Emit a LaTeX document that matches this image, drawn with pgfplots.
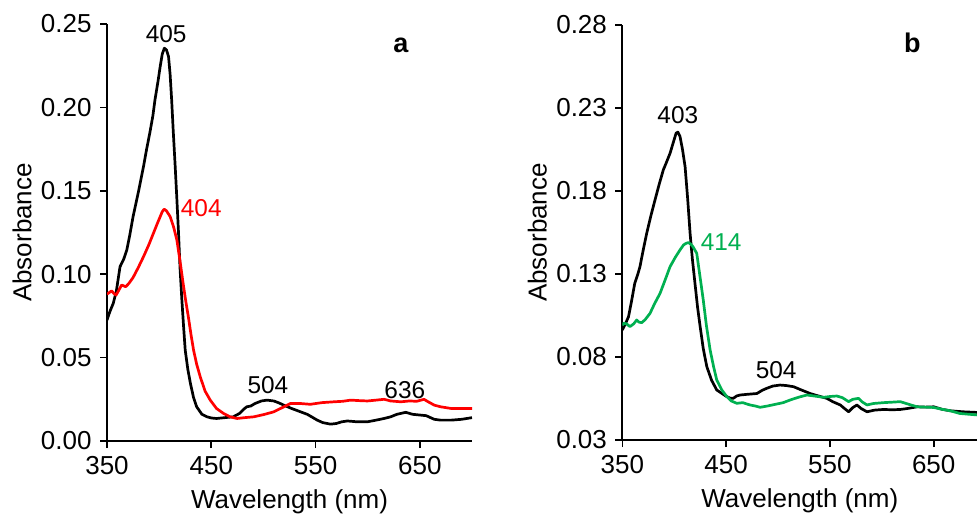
\documentclass[border=0pt,12pt]{standalone}
\usepackage{fontspec}
\setmainfont{Liberation Sans}
\usepackage{pgfplots}
\pgfplotsset{compat=1.18}
\definecolor{exgreen}{RGB}{0,176,80}
\definecolor{exred}{RGB}{255,0,0}

\newcommand{\lbl}{\fontsize{13}{15.6}\selectfont}
\newcommand{\ann}{\fontsize{12.2}{14.6}\selectfont}

\pgfplotsset{
  spec/.style={
    scale only axis,
    axis lines=left,
    axis line style={-, line width=1pt},
    tick align=outside,
    major tick length=3.5pt,
    tick style={line width=0.8pt, black},
    xmin=350, xmax=700,
    xtick={350,450,550,650},
    every tick label/.append style={font=\lbl},
    /pgf/number format/assume math mode=true,
    yticklabel style={/pgf/number format/.cd, fixed, fixed zerofill, precision=2},
    xticklabel style={/pgf/number format/.cd, fixed, precision=0, 1000 sep={}},
    every axis x label/.style={at={(rel axis cs:0.5,0)}, anchor=north, yshift=-24pt, inner sep=0pt, font=\lbl},
    every axis y label/.style={at={(rel axis cs:0,0.5)}, xshift=-42.5pt, rotate=90, anchor=center, font=\lbl},
    xlabel={Wavelength (nm)},
    ylabel={Absorbance},
    clip=true,
  },
  curve/.style={line width=1.35pt, line join=round},
}

\begin{document}
\begin{tikzpicture}[x=1pt,y=1pt]
\useasboundingbox (0,0) rectangle (488.5,256.5);
\clip (0,0) rectangle (488.5,256.5);

% ---- panel a ----
\begin{axis}[spec,
  at={(53.5pt,36pt)}, anchor=south west,
  width=182.5pt, height=208.5pt,
  ymin=0, ymax=0.25,
  ytick={0,0.05,0.10,0.15,0.20,0.25},
]
\addplot[curve, black] coordinates {
(350,0.0725) (353,0.078) (356,0.0825) (359,0.090) (362.5,0.1045) (366,0.109) (369,0.1145)
(372,0.124) (375,0.1345) (380,0.149) (385,0.1645) (388,0.175) (391,0.1845) (394,0.195)
(396,0.2045) (399,0.216) (401,0.2245) (403,0.232) (405,0.2355) (407,0.2345) (409,0.2305)
(410.5,0.220) (412,0.2045) (413.5,0.186) (415.4,0.1645) (417,0.145) (418.6,0.1245)
(420,0.104) (421.8,0.0845) (423.5,0.068) (425,0.0545) (427.5,0.043) (430,0.0345)
(433,0.026) (436,0.0205) (441,0.016) (446,0.0145) (450,0.0138) (455,0.0135) (463,0.014)
(471,0.0145) (477,0.0165) (481,0.019) (484,0.0205) (488,0.021) (492,0.0225) (498,0.024)
(503.5,0.0245) (510,0.024) (515,0.0228) (519.5,0.0215) (527,0.0195) (535.6,0.0175)
(542,0.016) (547,0.0142) (551.6,0.0125) (557,0.011) (564.4,0.0101) (570,0.0105)
(575,0.0115) (580.5,0.012) (590,0.0115) (599.7,0.0115) (608,0.0125) (615.7,0.0135)
(622,0.0145) (628,0.016) (636.5,0.0172) (643,0.016) (651,0.0155) (656,0.0152)
(663.8,0.013) (670,0.0125) (680,0.0125) (690,0.013) (700,0.014)
};
\addplot[curve, exred] coordinates {
(350,0.088) (351,0.0885) (354.5,0.090) (356.5,0.0885) (358.7,0.0875) (361,0.090)
(364,0.0935) (366,0.093) (368,0.0925) (371,0.0945) (375,0.098) (380,0.104) (385,0.1105)
(390,0.1175) (394.5,0.1245) (398,0.130) (401,0.1345) (403,0.1375) (404.8,0.139)
(407,0.138) (410.6,0.1345) (414,0.128) (417,0.1205) (420,0.108) (423,0.0945)
(425.5,0.084) (428,0.0745) (430.5,0.064) (433,0.0545) (436,0.046) (439.4,0.0385)
(444,0.030) (449,0.0245) (455,0.0195) (461.8,0.0165) (468,0.0145) (474.7,0.0135)
(482,0.014) (490.7,0.0145) (500,0.0158) (510,0.0175) (518,0.020) (526,0.0225)
(535,0.0225) (545,0.022) (556,0.023) (567.6,0.0235) (576,0.0238) (583.7,0.0245)
(592,0.0242) (599.7,0.024) (608,0.0245) (615.7,0.025) (622,0.024) (631.7,0.0235)
(640,0.024) (647,0.0238) (654,0.025) (658,0.0235) (663.8,0.0215) (670,0.0205)
(680,0.0195) (690,0.0195) (700,0.0195)
};
\node[font=\ann, anchor=center] at (axis cs:406.7,0.244) {405};
\node[font=\ann, anchor=center, text=exred] at (axis cs:440.4,0.1397) {404};
\node[font=\ann, anchor=center] at (axis cs:504.3,0.0336) {504};
\node[font=\ann, anchor=center] at (axis cs:635.6,0.0306) {636};
\node[font=\fontsize{13.5}{16}\selectfont\bfseries, anchor=center] at (axis cs:631.7,0.2374) {a};
\end{axis}

% ---- panel b ----
\begin{axis}[spec,
  at={(311.15pt,36.5pt)}, anchor=south west,
  width=177.5pt, height=207.5pt,
  xmax=692,
  ymin=0.03, ymax=0.28,
  ytick={0.03,0.08,0.13,0.18,0.23,0.28},
]
\addplot[curve, black] coordinates {
(350,0.0963) (353,0.100) (356,0.1043) (359,0.114) (362,0.1244) (365,0.130) (367,0.1344)
(370,0.144) (373.5,0.1545) (377.5,0.165) (381.5,0.1746) (385.5,0.184) (389.5,0.1927)
(393,0.198) (396,0.2027) (399,0.209) (401.8,0.2148) (403.5,0.2155) (405.6,0.2128)
(408,0.205) (410.5,0.1946) (413,0.175) (415.3,0.1545) (417.5,0.139) (420,0.1244)
(422.5,0.110) (425,0.0982) (428,0.085) (431.4,0.0742) (436,0.066) (441,0.0601)
(446,0.058) (450.7,0.0561) (454,0.0552) (457,0.0551) (460,0.0565) (463.5,0.0571)
(470,0.0575) (479.6,0.058) (485,0.060) (489,0.0611) (495,0.0625) (502,0.0631)
(508,0.0628) (515,0.0621) (523,0.060) (531,0.058) (539,0.0565) (547,0.0551)
(553,0.053) (560,0.0511) (564,0.049) (568,0.047) (572,0.0495) (576,0.0511)
(580,0.049) (585.7,0.047) (593,0.048) (601.7,0.0484) (610,0.0482) (617.8,0.0484)
(625,0.049) (634,0.050) (642,0.0498) (650,0.050) (658,0.0485) (666,0.0476)
(678,0.047) (692,0.0466)
};
\addplot[curve, exgreen] coordinates {
(350,0.099) (351,0.1003) (354,0.1000) (357.4,0.0983) (361,0.100) (363.9,0.1023)
(366,0.101) (368.7,0.1007) (372,0.1025) (376.7,0.1063) (381,0.112) (386.4,0.1184)
(391,0.126) (396,0.1344) (401,0.140) (405.6,0.1445) (409,0.1475) (411.5,0.1485)
(413.6,0.1489) (416,0.148) (418,0.1465) (421.7,0.1425) (424.5,0.130) (428,0.1143)
(431,0.099) (434.6,0.0842) (438,0.074) (441,0.0661) (446,0.060) (450.7,0.0561)
(455,0.0535) (460.3,0.0521) (466,0.0525) (473,0.0511) (478,0.0505) (482.8,0.0497)
(490,0.0505) (499,0.0517) (505,0.0525) (511.7,0.0541) (520,0.0558) (527.8,0.0571)
(535,0.0565) (543.8,0.0557) (550,0.0562) (556.7,0.0565) (562,0.0555) (568,0.0531)
(572,0.0545) (577.6,0.0551) (581,0.053) (585.7,0.0511) (592,0.052) (601.7,0.0525)
(610,0.0528) (617.8,0.0531) (626,0.0515) (634,0.050) (642,0.0498) (650,0.0496)
(658,0.0485) (666,0.0476) (675,0.046) (684,0.0455) (692,0.0451)
};
\node[font=\ann, anchor=center] at (axis cs:403.5,0.2258) {403};
\node[font=\ann, anchor=center, text=exgreen] at (axis cs:445.2,0.1495) {414};
\node[font=\ann, anchor=center] at (axis cs:498.2,0.0722) {504};
\node[font=\fontsize{13.5}{16}\selectfont\bfseries, anchor=center] at (axis cs:629.4,0.2692) {b};
\end{axis}
\end{tikzpicture}
\end{document}
